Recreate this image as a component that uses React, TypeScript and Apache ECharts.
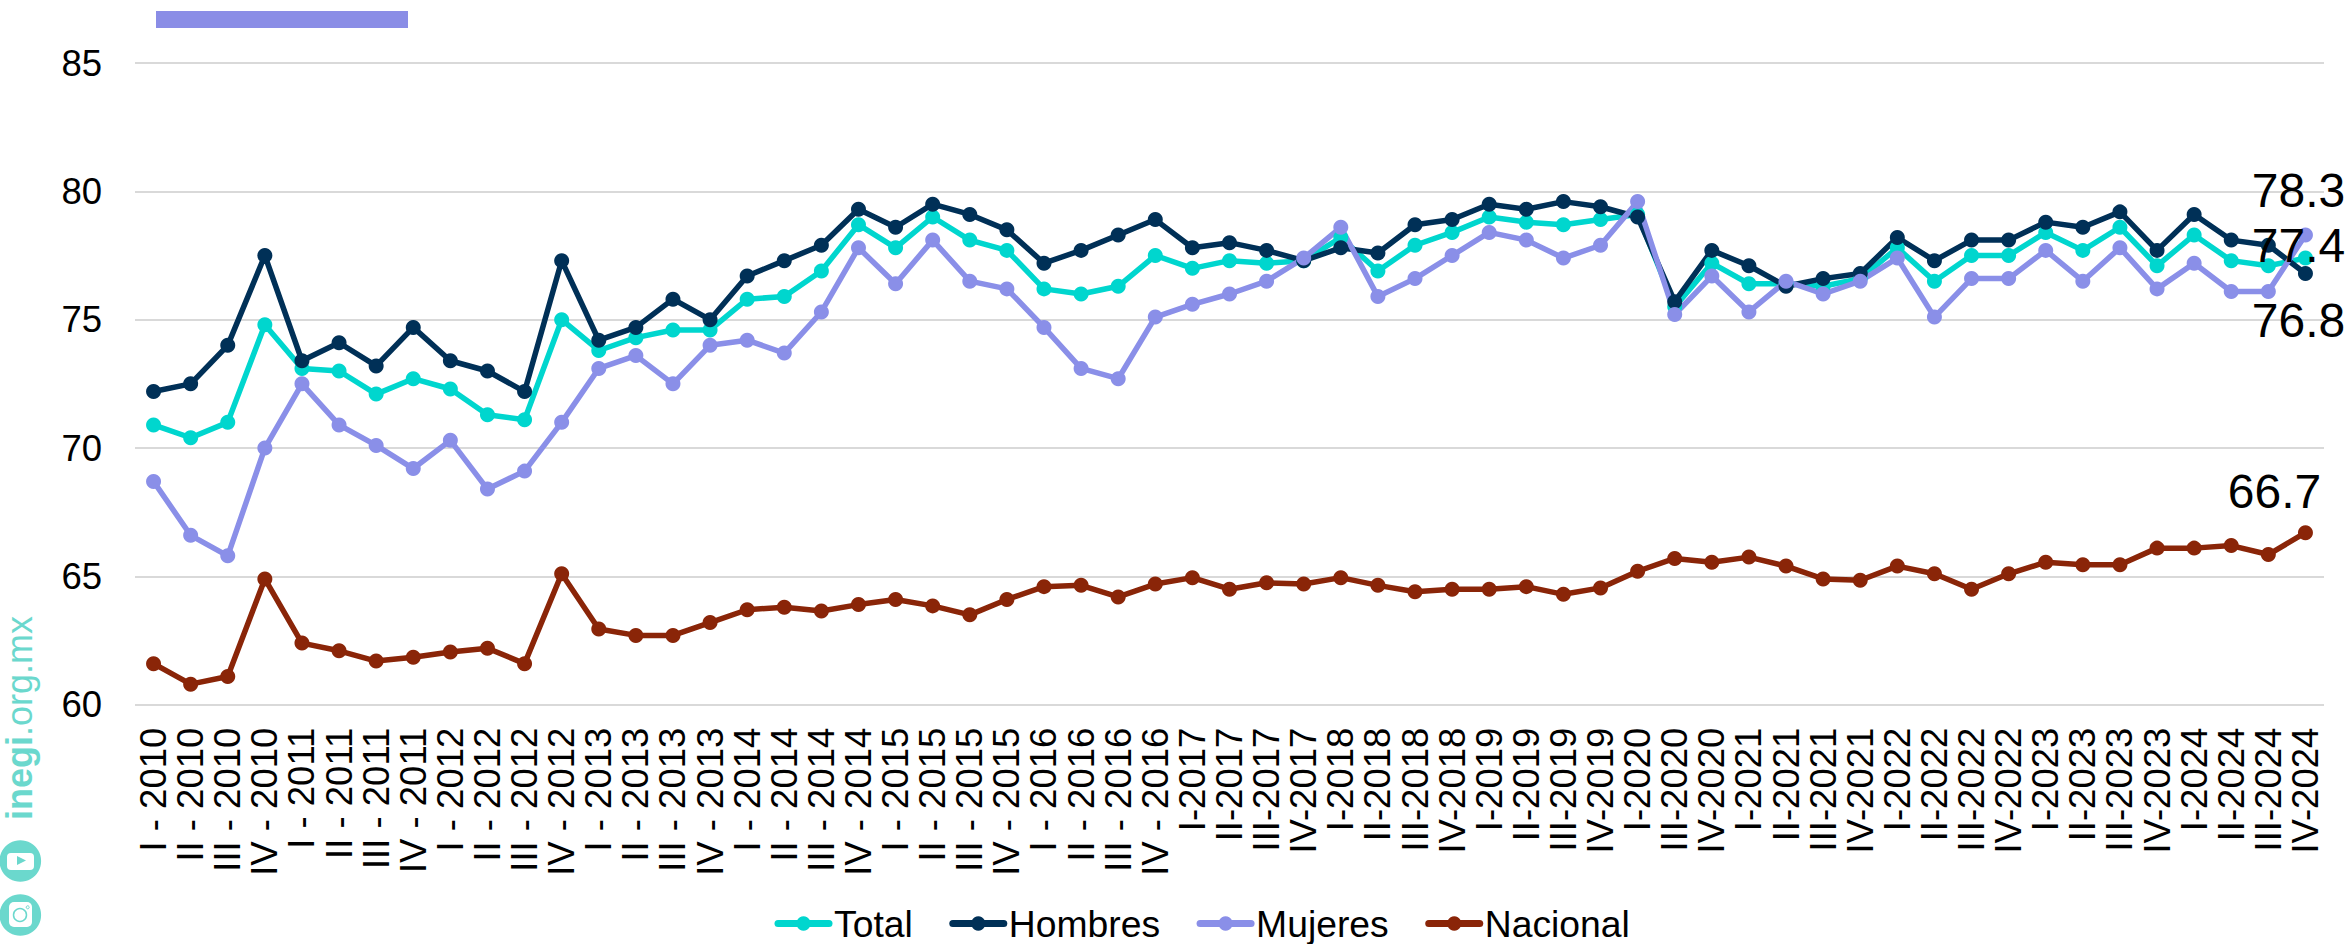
import React, { useEffect, useRef } from "react";
import * as echarts from "echarts";

const years = [2010, 2011, 2012, 2013, 2014, 2015, 2016];
const quarters = ["I", "II", "III", "IV"];
const categories = [
  ...years.flatMap((y) => quarters.map((q) => `${q} - ${y}`)),
  "I-2017", "II-2017", "III-2017", "IV-2017",
  "I-2018", "II-2018", "III-2018", "IV-2018",
  "I-2019", "II-2019", "III-2019", "IV-2019",
  "I-2020", "III-2020", "IV-2020",
  "I-2021", "II-2021", "III-2021", "IV-2021",
  "I-2022", "II-2022", "III-2022", "IV-2022",
  "I-2023", "II-2023", "III-2023", "IV-2023",
  "I-2024", "II-2024", "III-2024", "IV-2024",
];

const total = [
  70.9, 70.4, 71, 74.8, 73.1, 73.0, 72.1, 72.7, 72.3, 71.3, 71.1, 75.0,
  73.8, 74.3, 74.6, 74.6, 75.8, 75.9, 76.9, 78.7, 77.8, 79.0, 78.1, 77.7,
  76.2, 76.0, 76.3, 77.5, 77.0, 77.3, 77.2, 77.3, 78.2, 76.9, 77.9, 78.4,
  79.0, 78.8, 78.7, 78.9, 79.1, 75.5, 77.2, 76.4, 76.4, 76.3, 76.6,
  77.8, 76.5, 77.5, 77.5, 78.4, 77.7, 78.6, 77.1, 78.3, 77.3, 77.1, 77.4,
];
const hombres = [
  72.2, 72.5, 74, 77.5, 73.4, 74.1, 73.2, 74.7, 73.4, 73.0, 72.2, 77.3,
  74.2, 74.7, 75.8, 75.0, 76.7, 77.3, 77.9, 79.3, 78.6, 79.5, 79.1, 78.5,
  77.2, 77.7, 78.3, 78.9, 77.8, 78.0, 77.7, 77.3, 77.8, 77.6, 78.7, 78.9,
  79.5, 79.3, 79.6, 79.4, 79.0, 75.7, 77.7, 77.1, 76.3, 76.6, 76.8,
  78.2, 77.3, 78.1, 78.1, 78.8, 78.6, 79.2, 77.7, 79.1, 78.1, 77.9, 76.8,
];
const mujeres = [
  68.7, 66.6, 65.8, 70.0, 72.5, 70.9, 70.1, 69.2, 70.3, 68.4, 69.1, 71.0,
  73.1, 73.6, 72.5, 74.0, 74.2, 73.7, 75.3, 77.8, 76.4, 78.1, 76.5, 76.2,
  74.7, 73.1, 72.7, 75.1, 75.6, 76.0, 76.5, 77.4, 78.6, 75.9, 76.6, 77.5,
  78.4, 78.1, 77.4, 77.9, 79.6, 75.2, 76.7, 75.3, 76.5, 76.0, 76.5,
  77.4, 75.1, 76.6, 76.6, 77.7, 76.5, 77.8, 76.2, 77.2, 76.1, 76.1, 78.3,
];
const nacional = [
  61.6, 60.8, 61.1, 64.9, 62.4, 62.1, 61.7, 61.85, 62.05, 62.2, 61.6, 65.1,
  62.95, 62.7, 62.7, 63.2, 63.7, 63.8, 63.65, 63.9, 64.1, 63.85, 63.5, 64.1,
  64.6, 64.65, 64.2, 64.7, 64.95, 64.5, 64.75, 64.7, 64.95, 64.65, 64.4, 64.5,
  64.5, 64.6, 64.3, 64.55, 65.2, 65.7, 65.55, 65.75, 65.4, 64.9, 64.85,
  65.4, 65.1, 64.5, 65.1, 65.55, 65.45, 65.45, 66.1, 66.1, 66.2, 65.85, 66.7,
];

const FONT = '"Liberation Sans", Arial, sans-serif';
const TEAL = "#6BD8CD";

function withLastLabel(values: number[], offset: number[]) {
  return values.map((v, i) =>
    i === values.length - 1
      ? {
          value: v,
          label: {
            show: true,
            position: "inside",
            offset,
            fontSize: 48,
            fontFamily: FONT,
            color: "#000",
            formatter: (p: any) => Number(p.value).toFixed(1),
          },
        }
      : v
  );
}

function lineSeries(name: string, color: string, data: any[]) {
  return {
    name,
    type: "line",
    data,
    symbol: "circle",
    symbolSize: 15,
    showSymbol: true,
    lineStyle: { color, width: 5.5 },
    itemStyle: { color },
    label: { show: false },
    emphasis: { disabled: true },
  };
}

export default function App() {
  const ref = useRef<HTMLDivElement>(null);
  useEffect(() => {
    document.body.style.margin = "0";
    const chart = echarts.init(ref.current!, undefined, { renderer: "svg" });
    chart.setOption({
      animation: false,
      backgroundColor: "#fff",
      textStyle: { fontFamily: FONT },
      grid: { left: 135, top: 63, width: 2189, height: 641.7, containLabel: false },
      legend: {
        left: 769.5,
        top: 900,
        itemWidth: 51,
        itemHeight: 18,
        itemGap: 36.5,
        lineStyle: { width: 7, cap: "round" },
        textStyle: { fontSize: 37.3, fontFamily: FONT, color: "#000" },
        data: ["Total", "Hombres", "Mujeres", "Nacional"],
      },
      xAxis: {
        type: "category",
        data: categories,
        boundaryGap: true,
        axisLine: { show: false },
        axisTick: { show: false },
        splitLine: { show: false },
        axisLabel: {
          interval: 0,
          rotate: 90,
          margin: 23,
          fontSize: 36.5,
          fontFamily: FONT,
          color: "#000",
        },
      },
      yAxis: {
        type: "value",
        min: 60,
        max: 85,
        interval: 5,
        axisLine: { show: false },
        axisTick: { show: false },
        splitLine: { show: true, lineStyle: { color: "#D9D9D9", width: 2 } },
        axisLabel: { margin: 33, fontSize: 36.5, fontFamily: FONT, color: "#000" },
      },
      series: [
        lineSeries("Total", "#00D6CE", withLastLabel(total, [-7, -13])),
        lineSeries("Hombres", "#003057", withLastLabel(hombres, [-7, 47])),
        lineSeries("Mujeres", "#8A8FE8", withLastLabel(mujeres, [-7, -44])),
        lineSeries("Nacional", "#8A2508", withLastLabel(nacional, [-31, -41])),
      ],
      graphic: [
        { type: "rect", shape: { x: 156, y: 11, width: 252, height: 17 }, style: { fill: "#8A8DE6" } },
        {
          type: "text",
          x: 1,
          y: 820,
          rotation: Math.PI / 2,
          style: {
            text: "{b|inegi}{r|.org.mx}",
            rich: {
              b: { fontSize: 36, fontWeight: "bold", fill: TEAL, fontFamily: FONT },
              r: { fontSize: 36, fill: TEAL, fontFamily: FONT },
            },
          },
        },
        { type: "circle", shape: { cx: 20.3, cy: 861, r: 20.8 }, style: { fill: TEAL } },
        { type: "rect", shape: { x: 7, y: 853, width: 27, height: 17, r: 4 }, style: { fill: "#fff" } },
        { type: "polygon", shape: { points: [[17, 856], [17, 865], [26, 860.5]] }, style: { fill: TEAL } },
        { type: "circle", shape: { cx: 20.3, cy: 915, r: 20.8 }, style: { fill: TEAL } },
        { type: "rect", shape: { x: 9, y: 902, width: 23, height: 25, r: 5 }, style: { fill: "#fff" } },
        { type: "circle", shape: { cx: 20, cy: 915, r: 6.5 }, style: { fill: "none", stroke: TEAL, lineWidth: 1.5 } },
        { type: "circle", shape: { cx: 27.7, cy: 907.3, r: 1.5 }, style: { fill: "#fff", stroke: TEAL, lineWidth: 1 } },
      ],
    });
    return () => chart.dispose();
  }, []);
  return <div ref={ref} style={{ width: 2349, height: 944, position: "absolute", left: 0, top: 0 }} />;
}
